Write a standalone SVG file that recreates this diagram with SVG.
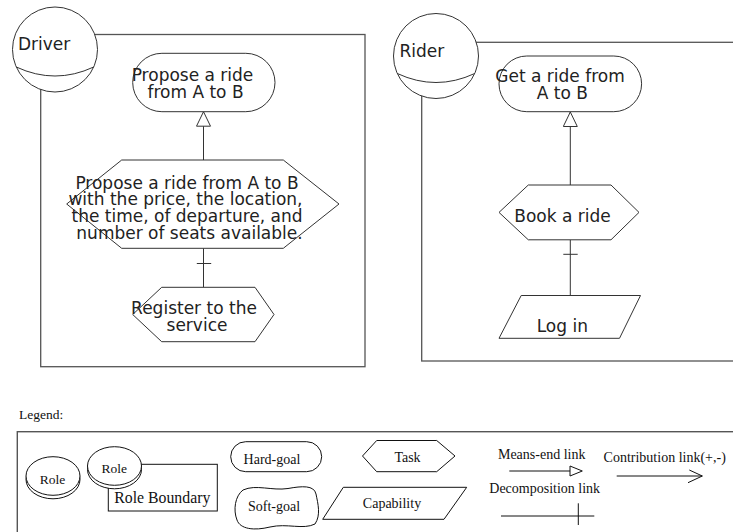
<svg xmlns="http://www.w3.org/2000/svg" width="733" height="532" viewBox="0 0 733 532">
  <style>
    .bound { fill: none; stroke: #555; stroke-width: 1.3; }
    .role { fill: #fff; stroke: #333; stroke-width: 1; }
    .shape { fill: #fff; stroke: #333; stroke-width: 1; }
    .link { fill: none; stroke: #333; stroke-width: 1; }
    .lbl { font-family: "DejaVu Sans", Verdana, sans-serif; font-size: 17px; fill: #222; text-anchor: middle; }
    .lbl-start { font-family: "DejaVu Sans", Verdana, sans-serif; font-size: 17px; fill: #222; }
    .lg { font-family: "Liberation Serif", "Times New Roman", serif; font-size: 14px; fill: #111; text-anchor: middle; }
    .lgshape { fill: #fff; stroke: #111; stroke-width: 1; }
  </style>
  <defs>
    <marker id="meansEnd" markerUnits="userSpaceOnUse" markerWidth="17" markerHeight="16" refX="15" refY="7.5" orient="auto" viewBox="0 0 17 16">
      <path d="M0.5,0.5 L15,7.5 L0.5,14.5 Z" fill="#fff" stroke="#333" stroke-width="1"/>
    </marker>
  </defs>

  <rect width="733" height="532" fill="#fff"/>

  <!-- Driver role and its boundary -->
  <g id="driver">
    <rect class="bound" x="40.7" y="34.5" width="324.3" height="332.2"/>
    <circle class="role" cx="55" cy="49.5" r="42.5"/>
    <path class="link" d="M16.3,67 Q55,85 93.7,67"/>
    <text class="lbl-start" x="18" y="50">Driver</text>
  </g>

  <!-- Rider role and its boundary -->
  <g id="rider">
    <rect class="bound" x="421.7" y="42.3" width="330" height="318.7"/>
    <circle class="role" cx="436" cy="56" r="42.5"/>
    <path class="link" d="M397.3,73.5 Q436,91.5 474.7,73.5"/>
    <text class="lbl-start" x="399.5" y="56.5">Rider</text>
  </g>

  <!-- Connectors -->
  <g id="connectors">
    <line class="link" x1="203.5" y1="160" x2="203.5" y2="111.7" marker-end="url(#meansEnd)"/>
    <line class="link" x1="203.5" y1="248.3" x2="203.5" y2="287.3"/>
    <line class="link" x1="196.8" y1="263.5" x2="211.2" y2="263.5"/>
    <line class="link" x1="570.3" y1="185" x2="570.3" y2="112" marker-end="url(#meansEnd)"/>
    <line class="link" x1="570.3" y1="239.8" x2="570.3" y2="295.5"/>
    <line class="link" x1="563.3" y1="254.3" x2="577.7" y2="254.3"/>
  </g>

  <g id="goal-propose">
    <rect class="shape" x="132.7" y="53.3" width="142.3" height="58.4" rx="29.2"/>
    <text class="lbl" x="192.5" y="81">Propose a ride</text>
    <text class="lbl" x="195.5" y="98.3">from A to B</text>
  </g>

  <g id="task-propose">
    <polygon class="shape" points="66.7,204 121.7,160 283.3,160 339,204 283.3,248.3 121.7,248.3"/>
    <text class="lbl" x="187" y="188.5">Propose a ride from A to B</text>
    <text class="lbl" x="185.5" y="205.3">with the price, the location,</text>
    <text class="lbl" x="187" y="222.1">the time, of departure, and</text>
    <text class="lbl" x="189.5" y="238.9">number of seats available.</text>
  </g>

  <g id="task-register">
    <polygon class="shape" points="132.7,314.5 161.7,287.3 255,287.3 274,314.5 255,341.7 161.7,341.7"/>
    <text class="lbl" x="194" y="314.3">Register to the</text>
    <text class="lbl" x="197" y="330.8">service</text>
  </g>

  <g id="goal-get-ride">
    <rect class="shape" x="499" y="56" width="142.6" height="55.7" rx="27.8"/>
    <text class="lbl" x="560" y="81.7">Get a ride from</text>
    <text class="lbl" x="562.3" y="99.3">A to B</text>
  </g>

  <g id="task-book">
    <polygon class="shape" points="499,212.4 528.3,185 611,185 639,212.4 611,239.8 528.3,239.8"/>
    <text class="lbl" x="562.5" y="222.3">Book a ride</text>
  </g>

  <g id="capability-login">
    <polygon class="shape" points="521.2,295.5 640.5,295.5 619.5,338.3 499,338.3"/>
    <text class="lbl" x="562.3" y="331.7">Log in</text>
  </g>

  <!-- Legend -->
  <g id="legend">
    <text class="lg" x="19" y="418.5" style="text-anchor:start;font-size:13.5px">Legend:</text>
    <rect x="17.3" y="431.7" width="740" height="120" fill="none" stroke="#555" stroke-width="1.4"/>

    <g id="legend-role">
      <ellipse class="lgshape" cx="53" cy="479.5" rx="27" ry="19.3"/>
      <ellipse class="lgshape" cx="53" cy="476" rx="27" ry="19.3"/>
      <text class="lg" x="52.5" y="484" style="font-size:13.5px">Role</text>
    </g>

    <g id="legend-role-boundary">
      <rect class="lgshape" x="108.3" y="464.3" width="109" height="46.7"/>
      <ellipse class="lgshape" cx="114.5" cy="469.5" rx="27" ry="19.3"/>
      <ellipse class="lgshape" cx="114.5" cy="466" rx="27" ry="19.3"/>
      <text class="lg" x="114.3" y="473.3" style="font-size:13.5px">Role</text>
      <text class="lg" x="162.3" y="503.3" style="font-size:15.8px">Role Boundary</text>
    </g>

    <g id="legend-hard-goal">
      <rect class="lgshape" x="230.7" y="441.7" width="91" height="30" rx="15"/>
      <text class="lg" x="272" y="464">Hard-goal</text>
    </g>

    <g id="legend-soft-goal">
      <path class="lgshape" d="M243,490 C256,484 272,491 288,488.5 C302,486 314,485 316,494 C318,504 321,515 315,524 C303,530 287,523 270,527 C254,531 240,529 237,520 C233,510 235,496 243,490 Z"/>
      <text class="lg" x="274" y="510.7">Soft-goal</text>
    </g>

    <g id="legend-task">
      <polygon class="lgshape" points="362.5,456 376.7,440.5 436.7,440.5 455,456 436.7,471.7 376.7,471.7"/>
      <text class="lg" x="407.5" y="461.7">Task</text>
    </g>

    <g id="legend-capability">
      <polygon class="lgshape" points="343.3,487.3 466.7,487.3 444,519.3 322.7,519.3"/>
      <text class="lg" x="392" y="508.3">Capability</text>
    </g>

    <g id="legend-means-end">
      <text class="lg" x="541.7" y="459.3">Means-end link</text>
      <line x1="509.3" y1="471" x2="570" y2="471" stroke="#111" stroke-width="1"/>
      <polygon points="570,466 582.3,471 570,476" fill="#fff" stroke="#111" stroke-width="1"/>
    </g>

    <g id="legend-contribution">
      <text class="lg" x="664.7" y="461.7">Contribution link(+,-)</text>
      <line x1="616.7" y1="476" x2="702.3" y2="476" stroke="#111" stroke-width="1"/>
      <polyline points="689.3,470 702.3,476 688,482.7" fill="none" stroke="#111" stroke-width="1"/>
    </g>

    <g id="legend-decomposition">
      <text class="lg" x="544.7" y="493.3">Decomposition link</text>
      <line x1="501" y1="516" x2="594.3" y2="516" stroke="#111" stroke-width="1"/>
      <line x1="578.3" y1="503.3" x2="578.3" y2="525" stroke="#111" stroke-width="1"/>
    </g>
  </g>
</svg>
